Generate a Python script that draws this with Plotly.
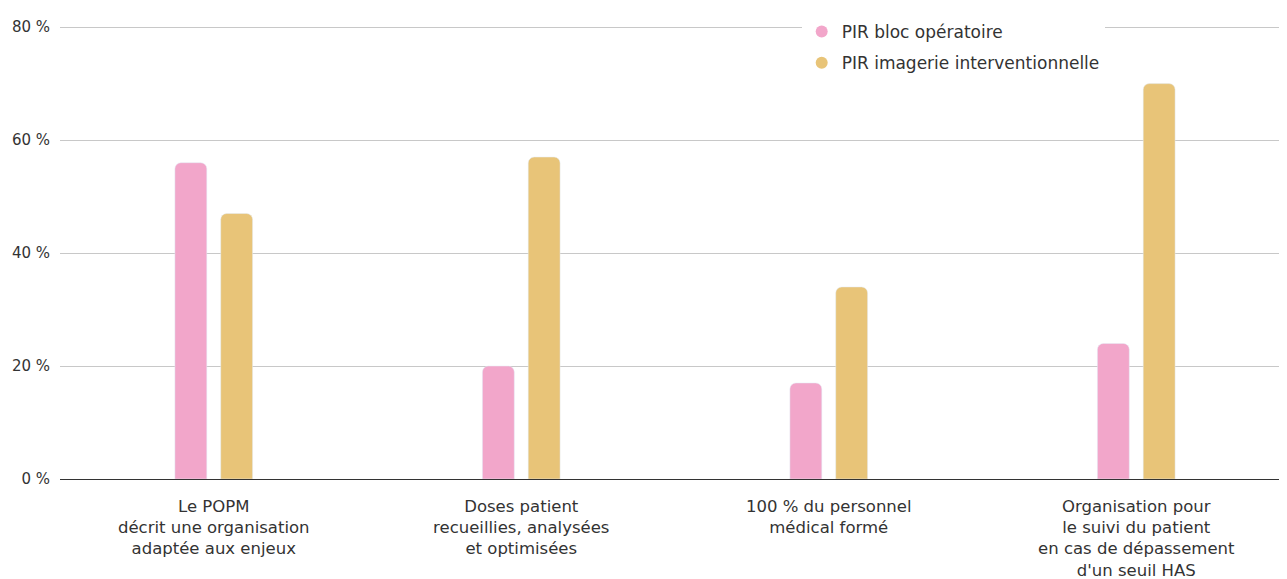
import plotly.graph_objects as go

categories = [
    "Le POPM<br>décrit une organisation<br>adaptée aux enjeux",
    "Doses patient<br>recueillies, analysées<br>et optimisées",
    "100 % du personnel<br>médical formé",
    "Organisation pour<br>le suivi du patient<br>en cas de dépassement<br>d'un seuil HAS",
]
bloc_operatoire = [56, 20, 17, 24]
imagerie_interv = [47, 57, 34, 70]
graduations = [0, 20, 40, 60, 80]

rose = "#F2A6CA"
or_ = "#E8C478"
police = "DejaVu Sans, Open Sans, sans-serif"

fig = go.Figure()
fig.add_trace(go.Bar(
    x=categories, y=bloc_operatoire, name="PIR bloc opératoire",
    marker=dict(color=rose, cornerradius=6), showlegend=False,
))
fig.add_trace(go.Bar(
    x=categories, y=imagerie_interv, name="PIR imagerie interventionnelle",
    marker=dict(color=or_, cornerradius=6), showlegend=False,
))
# entrées de légende rondes
for i, (nom, coul) in enumerate([("PIR bloc opératoire", rose), ("PIR imagerie interventionnelle", or_)]):
    fig.add_trace(go.Scatter(
        x=[None], y=[None], mode="markers", name=nom, legendgroup=f"g{i}",
        marker=dict(color=coul, size=15, symbol="circle"),
    ))

fig.update_layout(
    width=1287, height=571,
    margin=dict(l=52, r=5, t=18, b=100, autoexpand=False),
    plot_bgcolor="white", paper_bgcolor="white",
    font=dict(family=police, color="#333333", size=15),
    barmode="group", bargap=0.702, bargroupgap=0.304,
    legend=dict(
        x=0.603, y=1 - 6 / 571, xanchor="left", yanchor="top", yref="container",
        bgcolor="white", font=dict(size=17, color="#333333"),
        itemsizing="constant", tracegroupgap=6,
    ),
    xaxis=dict(
        showgrid=False, ticks="", tickfont=dict(size=16.5),
        showline=False, automargin=False, ticklabelstandoff=15,
    ),
    yaxis=dict(
        range=[0, 80.2], tickvals=graduations,
        ticktext=[f"{v} %" for v in graduations],
        showgrid=True, gridcolor="#C8C8C8", gridwidth=1,
        zeroline=True, zerolinecolor="#333333", zerolinewidth=1,
        ticklabelstandoff=9, tickfont=dict(size=15), automargin=False,
    ),
)

fig.write_html("out.html")
